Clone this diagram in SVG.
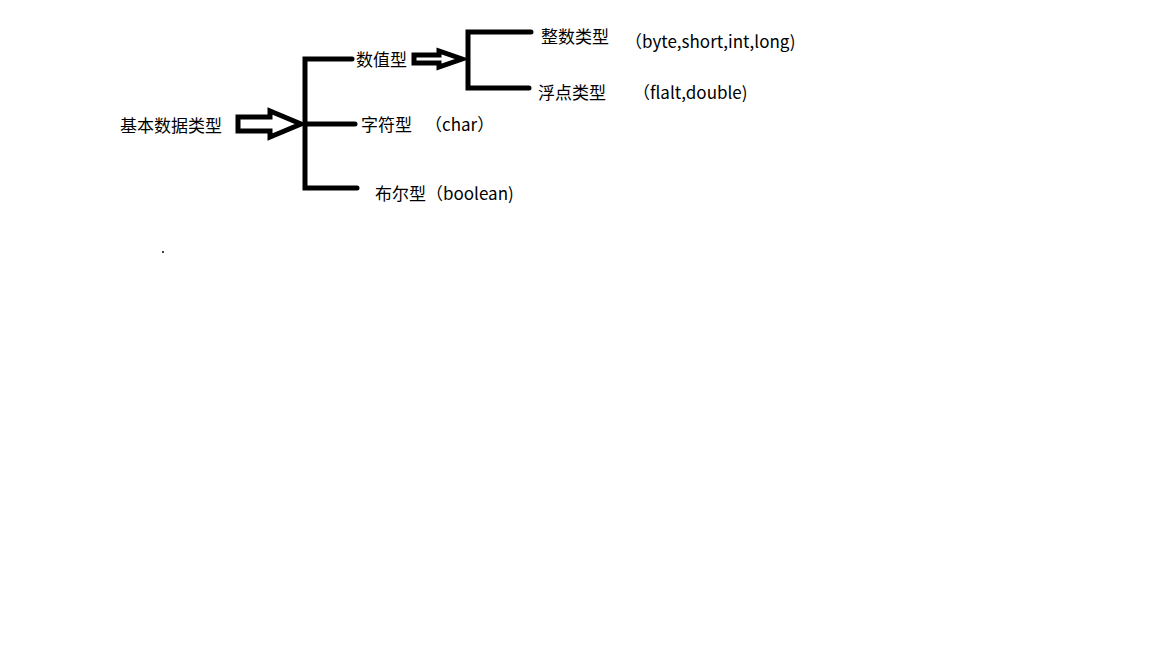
<svg xmlns="http://www.w3.org/2000/svg" width="1152" height="648" viewBox="0 0 1152 648">
<style>
text{font-family:"Microsoft YaHei","Noto Sans CJK SC",sans-serif;font-size:17px;fill:#000}
.l{stroke:#000;stroke-width:5;fill:none;stroke-linecap:round}
.a{stroke:#000;stroke-width:5;fill:#fff;stroke-linejoin:miter}
</style>
<rect width="1152" height="648" fill="#fff"/>
<g id="connectors">
<polygon class="a" points="238,117 270,117 270,111 301,124 270,137 270,131 238,131"/>
<path class="l" d="M352,59 H305 V188 H357 M305,124 H355"/>
<polygon class="a" points="414,55 439,55 439,51 462,59 439,67 439,63 414,63"/>
<path class="l" d="M531,32 H468 V88 H529"/>
<circle cx="163" cy="252" r="1" fill="#000"/>
</g>
<g id="root"><text x="120" y="132">基本数据类型</text></g>
<g id="num"><text x="356" y="66">数值型</text></g>
<g id="char"><text x="361" y="131">字符型</text><text x="425" y="131">（char）</text></g>
<g id="bool"><text x="375" y="200">布尔型（boolean)</text></g>
<g id="int"><text x="541" y="43">整数类型</text><text x="625" y="48">（byte,short,int,long)</text></g>
<g id="float"><text x="538" y="99">浮点类型</text><text x="633" y="99">（flalt,double)</text></g>
</svg>
